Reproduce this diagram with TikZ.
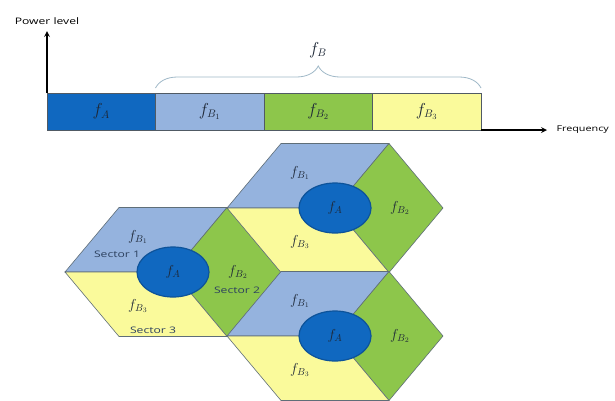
\documentclass[tikz,border=0pt]{standalone}
\usepackage{fontspec}
\setsansfont{Open Sans}[FakeStretch=1.35]
\usepackage{tikz}
\usetikzlibrary{positioning, shapes.geometric, decorations.pathreplacing}

\definecolor{deepband}{RGB}{16,104,192}
\definecolor{skyband}{RGB}{149,179,222}
\definecolor{grassband}{RGB}{141,198,75}
\definecolor{lemonband}{RGB}{250,250,155}
\definecolor{bandedge}{RGB}{80,90,100}
\definecolor{hexedge}{RGB}{95,110,120}
\definecolor{bracecol}{RGB}{160,185,200}
\definecolor{inktext}{RGB}{30,40,55}
\definecolor{sectortext}{RGB}{45,65,95}

\begin{document}
\begin{tikzpicture}[
    x=1pt, y=-1pt,
    node distance=0pt,
    axis/.style={->, >=stealth, line width=1.6pt},
    band/.style={draw=bandedge, line width=0.8pt, minimum width=108.5pt,
                 minimum height=37pt, inner sep=0pt, outer sep=0pt,
                 text=inktext, font=\fontsize{16}{16}\selectfont},
    sector/.style={draw=hexedge, line width=0.6pt},
    cell/.style={ellipse, draw=deepband!80!black, line width=1.2pt, fill=deepband,
                 minimum width=72pt, minimum height=50pt, inner sep=0pt,
                 text=inktext, font=\fontsize{14}{14}\selectfont},
    flabel/.style={text=inktext, font=\fontsize{14}{14}\selectfont},
    tag/.style={font=\sffamily\fontsize{9}{9}\selectfont}
]

\useasboundingbox[fill=white] (0,0) rectangle (615,400);

% spectrum
\node[band, fill=deepband] (fA) at (101.25,111.5) {$f_A$};
\node[band, fill=skyband, right=of fA] (fB1) {$f_{B_1}$};
\node[band, fill=grassband, right=of fB1] (fB2) {$f_{B_2}$};
\node[band, fill=lemonband, right=of fB2] (fB3) {$f_{B_3}$};

\coordinate (yend) at (47,31);
\coordinate (xend) at (547,130);
\draw[axis] (fA.north west) -- (yend);
\draw[axis] (fB3.south east) -- (xend);
\node[tag, above=3pt of yend] (power) {Power level};
\node[tag, font=\sffamily\fontsize{8}{8}\selectfont, right=6pt of xend] (freq) {Frequency};

\draw[draw=bracecol, line width=0.8pt, decorate, decoration={brace, amplitude=22pt}]
    ([yshift=5pt]fB1.north west) -- ([yshift=5pt]fB3.north east);
\node[text=inktext, font=\fontsize{16}{16}\selectfont] (fB) at (318,50) {$f_B$};

% cells
\foreach \cx/\cy/\nm in {173/272/west, 335/208/north, 335/336/south}{
  \begin{scope}[shift={(\cx,\cy)}]
    \filldraw[sector, fill=skyband] (-108,0) -- (-54,-64.5) -- (54,-64.5) -- (0,0) -- cycle;
    \filldraw[sector, fill=grassband] (54,-64.5) -- (108,0) -- (54,64.5) -- (0,0) -- cycle;
    \filldraw[sector, fill=lemonband] (-108,0) -- (0,0) -- (54,64.5) -- (-54,64.5) -- cycle;
    \node[cell] (\nm-A) at (0,0) {$f_A$};
    \node[flabel] (\nm-B1) at (-35,-35) {$f_{B_1}$};
    \node[flabel] (\nm-B2) at (65,0) {$f_{B_2}$};
    \node[flabel] (\nm-B3) at (-35,34) {$f_{B_3}$};
  \end{scope}
}

\node[tag, text=sectortext] (sec1) at (117,254) {Sector 1};
\node[tag, text=sectortext] (sec2) at (237,290) {Sector 2};
\node[tag, text=sectortext] (sec3) at (153,330) {Sector 3};

\end{tikzpicture}
\end{document}
